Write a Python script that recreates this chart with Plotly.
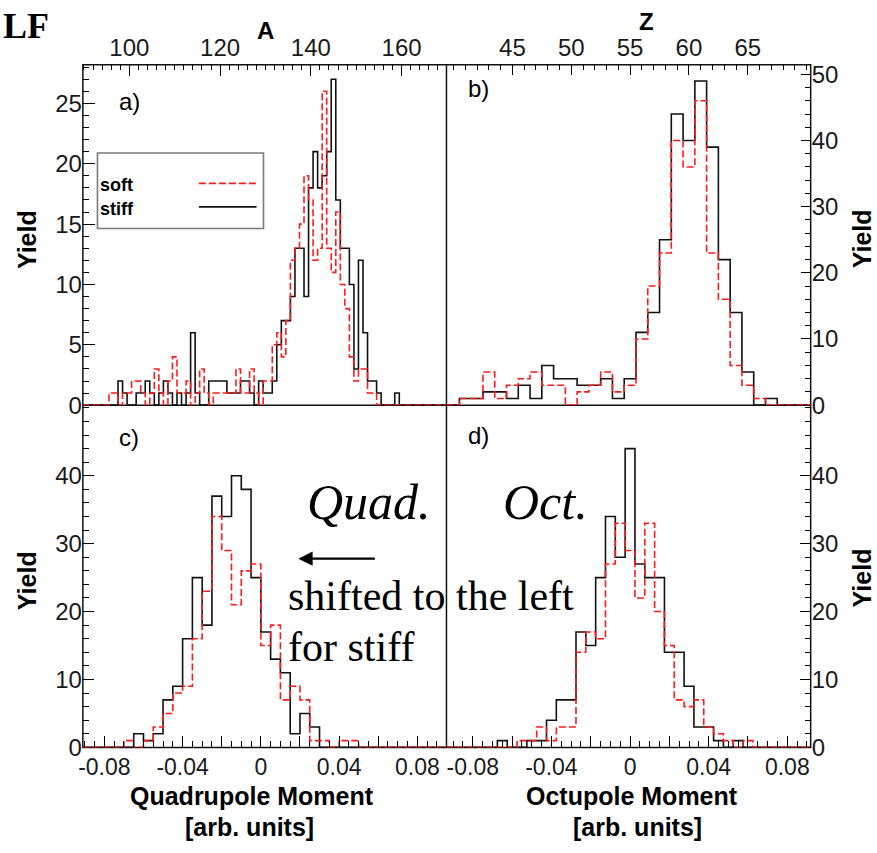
import numpy as np
import plotly.graph_objects as go

# ---------------- data ----------------
# panel a: mass number A, bin centres
a_A = list(range(96, 161))
a_soft = [1, 1, 0, 1, 1, 2, 2, 1, 0, 1, 3, 1, 0, 2, 4, 1, 1, 2, 0, 1,
          3, 1, 0, 1, 1, 1, 1, 1, 3, 1, 1, 3, 1, 0, 2, 2, 5, 6, 4, 7,
          12, 13, 15, 19, 17, 12, 13, 26, 13, 11, 16, 10, 8, 4, 2, 3, 3, 1, 1, 0,
          0, 0, 0, 0, 0]
a_stiff = [0, 0, 2, 1, 0, 0, 1, 1, 2, 1, 0, 1, 2, 1, 0, 1, 0, 1, 6, 1,
           0, 0, 2, 2, 2, 2, 1, 1, 1, 2, 2, 1, 0, 2, 1, 1, 2, 5, 7, 7,
           9, 13, 13, 9, 18, 21, 18, 19, 21, 27, 17, 13, 13, 10, 3, 12, 6, 2, 2, 1,
           0, 0, 0, 1, 0]

# panel b: charge Z, bin centres
b_Z = list(range(41, 68))
b_soft = [1, 1, 5, 1, 3, 4, 5, 3, 3, 0, 2, 3, 5, 2, 3, 10, 18, 23, 40, 36,
          46, 23, 16, 6, 3, 1, 0]
b_stiff = [1, 1, 2, 2, 1, 3, 1, 6, 4, 4, 3, 3, 4, 1, 4, 11, 14, 25, 44, 40,
           49, 39, 22, 14, 5, 0, 1]

# panel c: quadrupole moment, bin left edges (width 0.005)
c_left = [round(-0.07 + 0.005 * i, 3) for i in range(24)]
c_soft = [1, 0, 1, 3, 5, 8, 9, 16, 23, 34, 29, 21, 26, 27, 15, 18, 7, 9, 7, 1,
          1, 0, 1, 1]
c_stiff = [0, 2, 1, 2, 7, 9, 16, 25, 18, 37, 34, 40, 38, 25, 17, 13, 11, 2, 5, 3,
           0, 0, 0, 0]
c_width = 0.005

# panel d: octupole moment, bin centres (width 0.005)
d_centre = [round(0.005 * j, 3) for j in range(-13, 13)]
d_soft = [0, 0, 1, 1, 3, 1, 3, 3, 14, 17, 16, 27, 33, 29, 22, 33, 20, 15, 7, 6,
          7, 3, 2, 1, 0, 1]
d_stiff = [1, 0, 0, 1, 1, 4, 7, 7, 17, 15, 25, 34, 28, 44, 27, 25, 25, 14, 14, 9,
           3, 3, 1, 0, 1, 0]
d_width = 0.005

# axis labels
a_ticks = [100, 110, 120, 130, 140, 150, 160]
a_ticktext = ["100", "", "120", "", "140", "", "160"]
b_ticks = [45, 50, 55, 60, 65]
m_ticks = [-0.08, -0.06, -0.04, -0.02, 0, 0.02, 0.04, 0.06, 0.08]
m_ticktext = ["-0.08", "", "-0.04", "", "0", "", "0.04", "", "0.08"]

# ---------------- geometry ----------------
W, H = 877, 853
X0, XM, X1 = 78.3, 444.0, 810.3
Y0, YM, Y1 = 62.0, 409.3, 758.5


def px(x):
    return x / W


def py(y):
    return 1 - y / H


def step(lefts, width, counts, lo, hi):
    xs, ys = [lo], [0]
    prev = 0
    for l, c in zip(lefts, counts):
        xs += [l, l, l + width]
        ys += [prev, c, c]
        prev = c
    xs += [xs[-1], hi]
    ys += [0, 0]
    return xs, ys


ranges = {
    "a": [89.75, 169.9],
    "b": [39.4, 70.34],
    "c": [-0.0910, 0.0949],
    "d": [-0.0934, 0.0919],
}

RED = dict(color="#ff1a1a", width=1.6, dash="7px,3px")
BLK = dict(color="#111111", width=1.6)

fig = go.Figure()


def add_pair(lefts, width, soft, stiff, rng, xa, ya):
    xs, ys = step(lefts, width, stiff, rng[0], rng[1])
    fig.add_trace(go.Scatter(x=xs, y=ys, mode="lines", line=BLK,
                             xaxis=xa, yaxis=ya, showlegend=False, hoverinfo="skip"))
    xs, ys = step(lefts, width, soft, rng[0], rng[1])
    fig.add_trace(go.Scatter(x=xs, y=ys, mode="lines", line=RED,
                             xaxis=xa, yaxis=ya, showlegend=False, hoverinfo="skip"))


add_pair([v - 0.5 for v in a_A], 1.0, a_soft, a_stiff, ranges["a"], "x", "y")
add_pair([v - 0.5 for v in b_Z], 1.0, b_soft, b_stiff, ranges["b"], "x2", "y2")
add_pair(c_left, c_width, c_soft, c_stiff, ranges["c"], "x3", "y3")
add_pair([v - d_width / 2 for v in d_centre], d_width, d_soft, d_stiff, ranges["d"], "x4", "y4")

FONT = "Liberation Sans, Arial, Helvetica, sans-serif"
SERIF = "Liberation Serif, Times New Roman, serif"


def axis(**kw):
    base = dict(showline=False, ticks="inside", tickcolor="black", tickwidth=1.3,
                showgrid=False, zeroline=False, fixedrange=True,
                tickfont=dict(family=FONT, size=24, color="#1a1a1a"))
    base.update(kw)
    return base


def minor(vals, ln):
    return dict(tickmode="array", tickvals=list(vals), ticklen=ln, ticks="inside",
                tickcolor="black", tickwidth=1.1, showgrid=False)


layout = dict(
    width=W, height=H, margin=dict(l=0, r=0, t=0, b=0),
    paper_bgcolor="white", plot_bgcolor="white", showlegend=False,
    xaxis=axis(domain=[px(X0), px(XM)], anchor="y", side="top", range=ranges["a"],
               tickmode="array", tickvals=a_ticks, ticktext=a_ticktext, ticklen=11,
               ticklabelstandoff=3, minor=minor(np.arange(90, 171, 2), 5)),
    yaxis=axis(domain=[py(YM), py(Y0)], anchor="x", side="left", range=[0, 28.2],
               tickmode="array", tickvals=[0, 5, 10, 15, 20, 25], ticklen=12,
               minor=minor(np.arange(0, 29, 1), 6)),
    xaxis2=axis(domain=[px(XM), px(X1)], anchor="y2", side="top", range=ranges["b"],
                tickmode="array", tickvals=b_ticks, ticklen=10,
                ticklabelstandoff=3, minor=minor(np.arange(40, 71, 1), 5)),
    yaxis2=axis(domain=[py(YM), py(Y0)], anchor="x2", side="right", range=[0, 51.45],
                tickmode="array", tickvals=[0, 10, 20, 30, 40, 50], ticklen=10,
                minor=minor(np.arange(0, 52, 2), 6)),
    xaxis3=axis(domain=[px(X0), px(XM)], anchor="y3", side="bottom", range=ranges["c"],
                tickmode="array", tickvals=m_ticks, ticktext=m_ticktext, ticklen=11,
                ticklabelstandoff=4, tickfont=dict(family=FONT, size=23, color="#1a1a1a"),
                minor=minor(np.arange(-0.09, 0.0951, 0.005), 6)),
    yaxis3=axis(domain=[py(Y1), py(YM)], anchor="x3", side="left", range=[0, 50.4],
                tickmode="array", tickvals=[0, 10, 20, 30, 40, 50],
                ticktext=["0", "10", "20", "30", "40", ""], ticklen=11,
                minor=minor(np.arange(0, 51, 2), 6)),
    xaxis4=axis(domain=[px(XM), px(X1)], anchor="y4", side="bottom", range=ranges["d"],
                tickmode="array", tickvals=m_ticks, ticktext=m_ticktext, ticklen=11,
                ticklabelstandoff=4, tickfont=dict(family=FONT, size=23, color="#1a1a1a"),
                minor=minor(np.arange(-0.09, 0.0951, 0.005), 6)),
    yaxis4=axis(domain=[py(Y1), py(YM)], anchor="x4", side="right", range=[0, 50.4],
                tickmode="array", tickvals=[0, 10, 20, 30, 40, 50],
                ticktext=["0", "10", "20", "30", "40", ""], ticklen=11,
                minor=minor(np.arange(0, 51, 2), 6)),
)
fig.update_layout(**layout)

ann = []


def txt(x, y, s, size=24, bold=False, family=FONT, xanchor="center", angle=0, italic=False):
    if bold:
        s = "<b>" + s + "</b>"
    if italic:
        s = "<i>" + s + "</i>"
    ann.append(dict(x=px(x), y=py(y), xref="paper", yref="paper", text=s, showarrow=False,
                    xanchor=xanchor, yanchor="middle", textangle=angle,
                    font=dict(family=family, size=size, color="black")))


txt(262, 27, "A", bold=True)
txt(645, 18, "Z", bold=True)
txt(22, 240, "Yield", size=25, bold=True, angle=-90)
txt(22, 588, "Yield", size=25, bold=True, angle=-90)
txt(862, 240, "Yield", size=25, bold=True, angle=-90)
txt(862, 586, "Yield", size=25, bold=True, angle=-90)
txt(248, 808, "Quadrupole Moment", size=25, bold=True)
txt(246, 840, "[arb. units]", size=25, bold=True)
txt(631, 808, "Octupole Moment", size=25, bold=True)
txt(636, 840, "[arb. units]", size=25, bold=True)
txt(125, 99, "a)")
txt(476, 86, "b)")
txt(125, 442, "c)")
txt(476, 440, "d)")
txt(-4, 22, "LF", size=36, bold=True, family=SERIF, xanchor="left")
txt(366, 508, "Quad.", size=50, family=SERIF, italic=True)
txt(544, 508, "Oct.", size=50, family=SERIF, italic=True)
txt(283, 604, "shifted to the left", size=42, family=SERIF, xanchor="left")
txt(283, 656, "for stiff", size=42, family=SERIF, xanchor="left")
# legend texts
txt(94, 185, "soft", size=18, bold=True, xanchor="left")
txt(94, 209, "stiff", size=18, bold=True, xanchor="left")

# arrow
ann.append(dict(x=px(295), y=py(566), xref="paper", yref="paper", text="",
                showarrow=True, ax=78, ay=0, arrowhead=2, arrowsize=1.3,
                arrowwidth=2.2, arrowcolor="black"))

fig.update_layout(annotations=ann)

frame = dict(color="#111111", width=1.5)
shapes = [
    dict(type="rect", xref="paper", yref="paper", x0=px(X0), x1=px(X1), y0=py(Y1), y1=py(Y0),
         line=frame, fillcolor="rgba(0,0,0,0)", layer="below"),
    dict(type="line", xref="paper", yref="paper", x0=px(XM), x1=px(XM), y0=py(Y1), y1=py(Y0),
         line=frame, layer="below"),
    dict(type="line", xref="paper", yref="paper", x0=px(X0), x1=px(X1), y0=py(YM), y1=py(YM),
         line=frame, layer="below"),
    dict(type="rect", xref="paper", yref="paper", x0=px(93), x1=px(260), y0=py(229), y1=py(152),
         line=dict(color="#7a7a7a", width=1.6), fillcolor="rgba(0,0,0,0)"),
    dict(type="line", xref="paper", yref="paper", x0=px(195), x1=px(253), y0=py(183), y1=py(183),
         line=dict(color="#ff1a1a", width=1.6, dash="7px,3px")),
    dict(type="line", xref="paper", yref="paper", x0=px(195), x1=px(253), y0=py(207), y1=py(207),
         line=dict(color="#111111", width=1.6)),
]
fig.update_layout(shapes=shapes)

fig.write_html("out.html")
